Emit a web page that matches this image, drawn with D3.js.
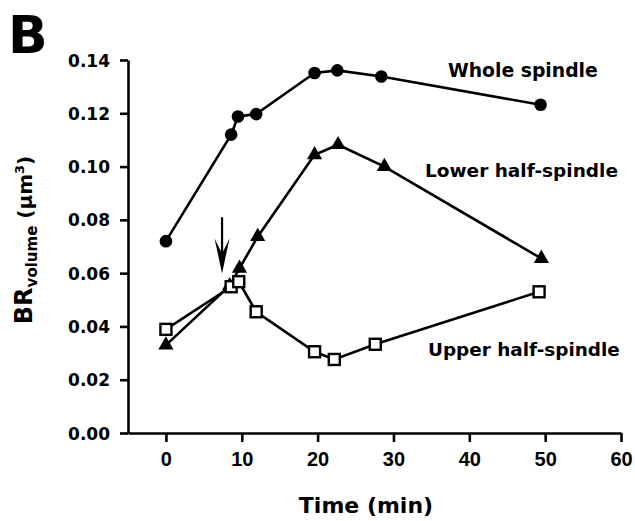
<!DOCTYPE html>
<html>
<head>
<meta charset="utf-8">
<script src="https://cdn.jsdelivr.net/npm/d3@7"></script>
<style>
  body { margin: 0; background: #fff; }
  svg { display: block; }
  text { font-family: "DejaVu Sans", sans-serif; font-weight: bold; fill: #000; }
</style>
</head>
<body>
<div class="chart"></div>
<script>
// data (time in min, BR volume in µm3)
const wholeTime   = [0, 8.6, 9.5, 11.9, 19.6, 22.6, 28.4, 49.4];
const wholeValue  = [0.072, 0.112, 0.1188, 0.1197, 0.1351, 0.1361, 0.1338, 0.1232];
const lowerTime   = [0, 8.4, 9.7, 12.1, 19.6, 22.7, 28.8, 49.5];
const lowerValue  = [0.033, 0.0553, 0.0618, 0.0737, 0.1044, 0.1082, 0.1000, 0.0655];
const upperTime   = [0, 8.6, 9.6, 11.9, 19.6, 22.2, 27.6, 49.2];
const upperValue  = [0.0389, 0.0549, 0.0568, 0.0455, 0.0305, 0.0276, 0.0333, 0.0530];
const xTicks = [0, 10, 20, 30, 40, 50, 60];
const yTicks = [0, 0.02, 0.04, 0.06, 0.08, 0.10, 0.12, 0.14];
// arrow marking the event at ~7.4 min
const arrowTime = 7.4, arrowFrom = 0.081, arrowTo = 0.0599;

const W = 635, H = 521;
const svg = d3.select('.chart').append('svg').attr('width', W).attr('height', H);

const x = d3.scaleLinear().domain([-5, 60]).range([128, 621]);
const y = d3.scaleLinear().domain([0, 0.14]).range([433, 60]);

// axes
const xAxis = d3.axisBottom(x).tickValues(xTicks).tickSize(9).tickSizeOuter(0).tickPadding(10);
const gx = svg.append('g').attr('transform', `translate(0,${y(0)})`).call(xAxis);
gx.selectAll('text').style('font-family', '"Liberation Sans", Arial, sans-serif')
  .style('font-size', '20px').style('font-weight', 'bold');

const yAxis = d3.axisLeft(y).tickValues(yTicks).tickFormat(d3.format('.2f'))
  .tickSize(8).tickSizeOuter(0).tickPadding(10);
const gy = svg.append('g').attr('transform', `translate(${x(-5)},0)`).call(yAxis);
gy.selectAll('text').style('font-size', '17px').attr('dy', '0.36em');

svg.selectAll('.domain, .tick line').attr('stroke', '#000').attr('stroke-width', 2.6);

// series
const series = [
  { name: 'Whole spindle', t: wholeTime, v: wholeValue, shape: 'circle' },
  { name: 'Lower half-spindle', t: lowerTime, v: lowerValue, shape: 'triangle' },
  { name: 'Upper half-spindle', t: upperTime, v: upperValue, shape: 'square' }
];
const line = d3.line().x(d => x(d[0])).y(d => y(d[1]));

series.forEach(s => {
  const pts = s.t.map((t, i) => [t, s.v[i]]);
  svg.append('path').datum(pts).attr('d', line)
    .attr('fill', 'none').attr('stroke', '#000').attr('stroke-width', 2.6);
  const g = svg.append('g');
  if (s.shape === 'circle') {
    g.selectAll('circle').data(pts).enter().append('circle')
      .attr('cx', d => x(d[0])).attr('cy', d => y(d[1])).attr('r', 6.3).attr('fill', '#000');
  } else if (s.shape === 'triangle') {
    g.selectAll('path').data(pts).enter().append('path')
      .attr('d', d3.symbol(d3.symbolTriangle, 100))
      .attr('transform', d => `translate(${x(d[0])},${y(d[1])})`).attr('fill', '#000');
  } else {
    g.selectAll('rect').data(pts).enter().append('rect')
      .attr('x', d => x(d[0]) - 5.5).attr('y', d => y(d[1]) - 5.5)
      .attr('width', 11).attr('height', 11)
      .attr('fill', '#fff').attr('stroke', '#000').attr('stroke-width', 2.4);
  }
});

// arrow
const ax = x(arrowTime), a0 = y(arrowFrom), a1 = y(arrowTo);
svg.append('line').attr('x1', ax).attr('x2', ax).attr('y1', a0).attr('y2', a1 - 10)
  .attr('stroke', '#000').attr('stroke-width', 2.2);
svg.append('path')
  .attr('d', `M${ax},${a1} L${ax - 7.5},${a1 - 35} L${ax},${a1 - 20} L${ax + 7.5},${a1 - 35} Z`)
  .attr('fill', '#000');

// series labels
svg.append('text').attr('x', 448).attr('y', 77).style('font-size', '18.8px').text('Whole spindle');
svg.append('text').attr('x', 425).attr('y', 177).style('font-size', '18.5px').text('Lower half-spindle');
svg.append('text').attr('x', 428).attr('y', 356).style('font-size', '18.4px').text('Upper half-spindle');

// axis titles
svg.append('text').attr('x', 366).attr('y', 513).attr('text-anchor', 'middle')
  .style('font-size', '22px').text('Time (min)');

const yt = svg.append('text').attr('transform', `translate(32,240) rotate(-90)`)
  .attr('text-anchor', 'middle');
yt.append('tspan').style('font-size', '24px').text('BR');
yt.append('tspan').style('font-size', '15px').attr('dy', 5).text('volume');
yt.append('tspan').style('font-size', '20px').attr('dy', -5).text(' (\u00b5m');
yt.append('tspan').style('font-size', '13px').attr('dy', -8).text('3');
yt.append('tspan').style('font-size', '20px').attr('dy', 8).text(')');

// panel letter
svg.append('text').attr('x', 8).attr('y', 53).style('font-size', '52px').text('B');
</script>
</body>
</html>
